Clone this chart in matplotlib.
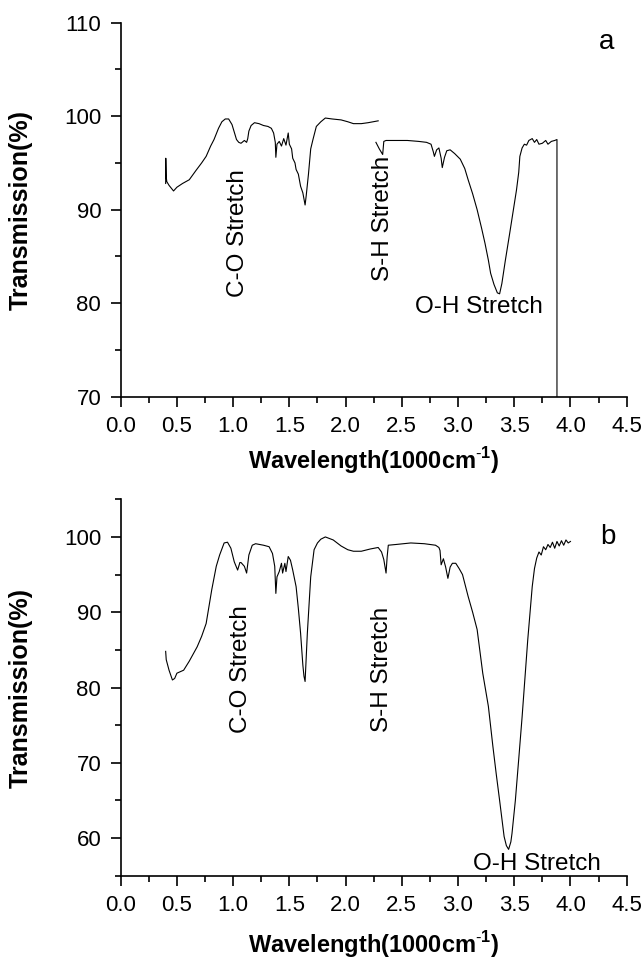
import numpy as np
import matplotlib
matplotlib.use("Agg")
import matplotlib.pyplot as plt
from matplotlib.ticker import MultipleLocator

plt.rcParams['font.family'] = ['Liberation Sans', 'DejaVu Sans']
plt.rcParams['mathtext.fontset'] = 'custom'
plt.rcParams['mathtext.rm'] = 'Liberation Sans'
plt.rcParams['mathtext.bf'] = 'Liberation Sans:bold'

# spectrum (a), first segment
a1_x = [0.40, 0.401, 0.405, 0.41, 0.43, 0.47, 0.50, 0.55, 0.61, 0.67,
        0.72, 0.76, 0.80, 0.83, 0.87, 0.90, 0.93, 0.96, 0.99, 1.01,
        1.03, 1.05, 1.07, 1.10, 1.12, 1.13, 1.14, 1.16, 1.19, 1.23,
        1.27, 1.31, 1.34, 1.36, 1.375, 1.38, 1.39, 1.41, 1.43, 1.45,
        1.47, 1.49, 1.50, 1.52, 1.53, 1.55, 1.56, 1.58, 1.60, 1.62,
        1.64, 1.65, 1.67, 1.69, 1.71, 1.74, 1.78, 1.82, 1.88, 1.96,
        2.02, 2.07, 2.14, 2.20, 2.29]
a1_y = [92.8, 95.5, 93.5, 93.0, 92.6, 92.0, 92.4, 92.8, 93.2, 94.2,
        95.0, 95.7, 96.8, 97.5, 98.7, 99.4, 99.7, 99.7, 99.1, 98.3,
        97.5, 97.2, 97.1, 97.4, 97.2, 97.6, 98.4, 99.0, 99.3, 99.2,
        99.0, 98.9, 98.7, 98.2, 97.2, 95.6, 97.0, 97.3, 96.8, 97.6,
        96.9, 98.2, 97.0, 96.5, 95.5, 95.0, 94.3, 93.8, 92.5, 91.8,
        90.5, 91.5, 93.8, 96.5, 97.5, 98.9, 99.4, 99.8, 99.7, 99.6,
        99.4, 99.2, 99.2, 99.3, 99.5]

# spectrum (a), second segment (ends with the drop line at 3.88)
a2_x = [2.27, 2.30, 2.33, 2.34, 2.36, 2.45, 2.55, 2.65, 2.72, 2.76,
        2.78, 2.79, 2.81, 2.83, 2.85, 2.86, 2.88, 2.90, 2.93, 2.97,
        3.02, 3.06, 3.09, 3.13, 3.17, 3.21, 3.24, 3.27, 3.29, 3.32,
        3.35, 3.37, 3.39, 3.42, 3.46, 3.49, 3.52, 3.54, 3.55, 3.57,
        3.59, 3.61, 3.63, 3.66, 3.68, 3.70, 3.72, 3.75, 3.78, 3.80,
        3.83, 3.86, 3.88, 3.88]
a2_y = [97.2, 96.5, 95.9, 97.3, 97.4, 97.4, 97.4, 97.3, 97.2, 97.0,
        96.2, 95.7, 96.4, 96.6, 95.5, 94.5, 95.6, 96.3, 96.4, 96.0,
        95.4, 94.4, 93.2, 91.7, 90.0, 88.0, 86.4, 84.6, 83.2, 82.0,
        81.1, 81.0, 82.1, 84.5, 87.5, 89.8, 92.1, 94.0, 95.7, 96.6,
        97.0, 96.9, 97.4, 97.6, 97.2, 97.5, 97.0, 97.1, 97.4, 97.0,
        97.3, 97.4, 97.5, 70.0]

# spectrum (b)
b_x = [0.40, 0.405, 0.43, 0.46, 0.48, 0.50, 0.56, 0.61, 0.68, 0.72,
       0.76, 0.81, 0.85, 0.88, 0.92, 0.95, 0.98, 1.01, 1.04, 1.06,
       1.07, 1.10, 1.12, 1.14, 1.17, 1.20, 1.27, 1.32, 1.35, 1.37,
       1.38, 1.39, 1.41, 1.43, 1.44, 1.46, 1.47, 1.49, 1.51, 1.53,
       1.56, 1.58, 1.60, 1.62, 1.63, 1.64, 1.66, 1.69, 1.72, 1.75,
       1.78, 1.82, 1.89, 1.96, 2.02, 2.07, 2.14, 2.22, 2.29, 2.32,
       2.34, 2.36, 2.37, 2.38, 2.45, 2.58, 2.70, 2.80, 2.83, 2.84,
       2.85, 2.87, 2.89, 2.91, 2.93, 2.95, 2.98, 3.01, 3.04, 3.09,
       3.13, 3.17, 3.22, 3.27, 3.31, 3.34, 3.37, 3.41, 3.43, 3.45,
       3.47, 3.48, 3.51, 3.54, 3.57, 3.62, 3.66, 3.68, 3.70, 3.72,
       3.74, 3.76, 3.78, 3.80, 3.82, 3.84, 3.86, 3.88, 3.90, 3.92,
       3.94, 3.96, 3.98, 4.00]
b_y = [84.8, 83.7, 82.3, 81.0, 81.2, 81.9, 82.3, 83.5, 85.4, 86.8,
       88.5, 93.0, 96.1, 97.6, 99.2, 99.3, 98.5, 96.7, 95.6, 96.6,
       96.6, 96.1, 95.2, 97.6, 98.9, 99.1, 98.9, 98.7, 97.8, 96.1,
       92.5, 94.7, 95.4, 96.5, 95.2, 96.5, 95.4, 97.4, 96.9, 95.6,
       93.4, 90.5, 87.2, 83.0, 81.5, 80.8, 87.2, 94.7, 98.3, 99.2,
       99.7, 100.0, 99.6, 98.8, 98.3, 98.1, 98.1, 98.4, 98.6, 98.0,
       97.0, 95.2, 97.4, 98.9, 99.0, 99.2, 99.1, 98.9, 98.6, 98.2,
       96.3, 97.1, 96.0, 94.5, 96.0, 96.5, 96.5, 95.8, 95.0, 92.1,
       90.0, 87.7, 81.9, 77.5, 72.2, 68.5, 65.0, 60.2, 59.0, 58.5,
       59.5, 60.6, 65.0, 70.5, 76.1, 86.3, 93.4, 95.8, 97.2, 98.0,
       97.6, 98.7, 98.3, 99.0, 98.6, 99.3, 98.5, 99.4, 98.8, 99.5,
       98.9, 99.6, 99.2, 99.4]

xlabel = r'Wavelength(1000cm$^{\mathbf{\text{-}1}}$)'
ylabel = 'Transmission(%)'

fig = plt.figure(figsize=(6.44, 9.6), dpi=100)
ax_a = fig.add_axes([0.1874, 0.5868, 0.7857, 0.3896])
ax_b = fig.add_axes([0.1874, 0.0878, 0.7857, 0.3921])


def style(ax, ylim, yticks):
    ax.set_xlim(0, 4.5)
    ax.set_ylim(*ylim)
    ax.set_yticks(yticks)
    ax.xaxis.set_major_locator(MultipleLocator(0.5))
    ax.xaxis.set_minor_locator(MultipleLocator(0.25))
    ax.yaxis.set_minor_locator(MultipleLocator(5))
    ax.xaxis.set_major_formatter(matplotlib.ticker.FormatStrFormatter('%.1f'))
    for s in ['top', 'right']:
        ax.spines[s].set_visible(False)
    for s in ['left', 'bottom']:
        ax.spines[s].set_linewidth(1.2)
    ax.tick_params(which='major', direction='out', length=7, width=1.2,
                   labelsize=16, pad=7)
    ax.tick_params(which='minor', direction='out', length=4, width=1.2)
    ax.set_xlabel(xlabel, fontsize=17, fontweight='bold')
    ax.set_ylabel(ylabel, fontsize=18, fontweight='bold')
    ax.yaxis.set_label_coords(-0.173, 0.5)


ax_a.plot(a1_x, a1_y, color='black', lw=0.8)
ax_a.plot(a2_x, a2_y, color='black', lw=0.8)
style(ax_a, (70, 110), [70, 80, 90, 100, 110])
ax_a.xaxis.set_label_coords(0.5, -0.13)
ax_a.text(1.04, 87.45, 'C-O Stretch', rotation=90, ha='center', va='center', fontsize=17.5)
ax_a.text(2.33, 89.05, 'S-H Stretch', rotation=90, ha='center', va='center', fontsize=17.5)
ax_a.text(3.19, 79.0, 'O-H Stretch', ha='center', va='baseline', fontsize=17.5)
ax_a.text(4.32, 107.9, 'a', ha='center', va='center', fontsize=20)

ax_b.plot(b_x, b_y, color='black', lw=0.8)
style(ax_b, (55, 105), [60, 70, 80, 90, 100])
ax_b.xaxis.set_label_coords(0.5, -0.142)
ax_b.text(1.07, 82.45, 'C-O Stretch', rotation=90, ha='center', va='center', fontsize=17.5)
ax_b.text(2.32, 82.35, 'S-H Stretch', rotation=90, ha='center', va='center', fontsize=17.5)
ax_b.text(3.70, 55.7, 'O-H Stretch', ha='center', va='baseline', fontsize=17.5)
ax_b.text(4.33, 100.0, 'b', ha='center', va='center', fontsize=20)

fig.savefig('out.png', dpi=100)
